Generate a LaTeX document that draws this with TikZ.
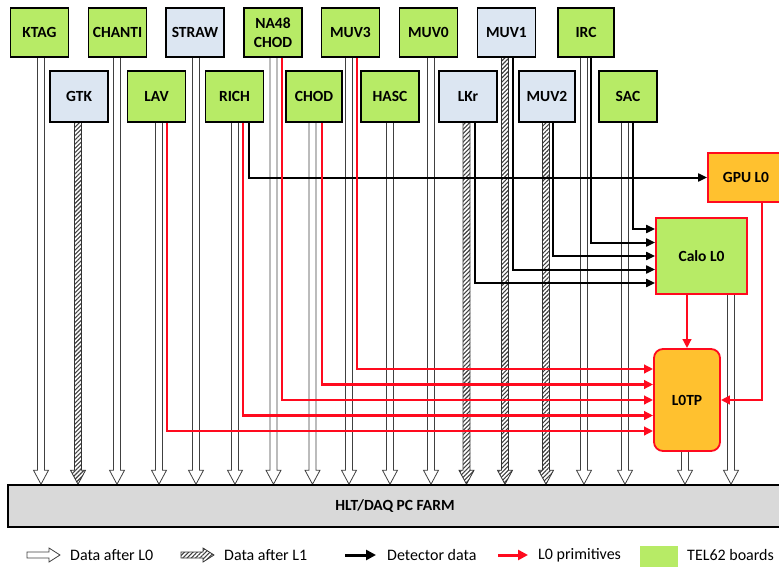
\documentclass[tikz,border=0pt]{standalone}
\usepackage{fontspec}
\setmainfont{Carlito}
\usetikzlibrary{arrows.meta,calc,patterns.meta}
\definecolor{telgreen}{HTML}{B7EB66}
\definecolor{boxblue}{HTML}{DCE6F2}
\definecolor{boxorange}{HTML}{FFC12F}
\definecolor{primred}{HTML}{FF0A1E}
\definecolor{farmgray}{HTML}{D9D9D9}
\pgfdeclarelayer{bg}
\pgfdeclarelayer{mid}
\pgfsetlayers{bg,mid,main}
\newcommand\labfont{\bfseries\fontsize{15.5}{19}\selectfont}
\newcommand\legfont{\fontsize{16}{19}\selectfont}
% vertical block arrow from a box bottom down to the farm
\newcommand\shaftarrow[3]{%
  \path[#3] let \p1=([xshift=#2pt]#1.south), \p2=(HLT.north) in
   (\x1-3.5pt,\y1) -- (\x1-3.5pt,\y2+14pt) -- (\x1-7.5pt,\y2+14pt) -- (\x1,\y2)
   -- (\x1+7.5pt,\y2+14pt) -- (\x1+3.5pt,\y2+14pt) -- (\x1+3.5pt,\y1);}
% horizontal legend block arrow between two named coordinates
\newcommand\legarrow[3]{%
  \path[#3] let \p1=(#1), \p2=(#2) in
   (\x1,\y1+3pt) -- (\x2-11pt,\y1+3pt) -- (\x2-11pt,\y1+7pt) -- (\x2,\y1)
   -- (\x2-11pt,\y1-7pt) -- (\x2-11pt,\y1-3pt) -- (\x1,\y1-3pt) -- cycle;}
\begin{document}
\begin{tikzpicture}[x=1pt,y=-1pt,
  tel/.style={draw=black, line width=1.4pt, fill=telgreen, minimum width=58pt,
              minimum height=49pt, inner sep=0pt, font=\labfont, align=center},
  tel2/.style={tel, minimum height=51pt},
  hollow/.style={draw=black!75, line width=0.8pt, fill=white},
  hatched/.style={draw=black!80, line width=0.8pt,
                  pattern={Lines[angle=45,distance=3pt,line width=1.1pt]},
                  pattern color=black!75},
  det/.style={draw=black, line width=2pt, -{Triangle[length=9pt,width=8pt]}},
  prim/.style={draw=primred, line width=2.4pt, -{Triangle[length=9pt,width=8.5pt]}},
  trig/.style={draw=primred, line width=1.8pt, inner sep=0pt, font=\labfont},
  legtext/.style={anchor=west, inner sep=0pt, font=\legfont}
]
\useasboundingbox (0,0) rectangle (779,567);
\clip (0,0) rectangle (779,567);

% farm
\node[draw=black, line width=1.5pt, fill=farmgray, minimum width=774pt,
      minimum height=42pt, inner sep=0pt, font=\labfont] (HLT) at (395,506) {HLT/DAQ PC FARM};

% top row
\node[tel] (KTAG) at (39.5,32.5) {KTAG};
\node[tel] (CHANTI) at (117.5,32.5) {CHANTI};
\node[tel, fill=boxblue] (STRAW) at (195,32.5) {STRAW};
\node[tel] (NA48) at (273,32.5) {NA48\\CHOD};
\node[tel] (MUV3) at (350.5,32.5) {MUV3};
\node[tel] (MUV0) at (428.5,32.5) {MUV0};
\node[tel, fill=boxblue] (MUV1) at (506.5,32.5) {MUV1};
\node[tel, minimum width=56pt] (IRC) at (586,32.5) {IRC};
% second row
\node[tel2, fill=boxblue] (GTK) at (79,96.5) {GTK};
\node[tel2] (LAV) at (156.5,96.5) {LAV};
\node[tel2] (RICH) at (234.5,96.5) {RICH};
\node[tel2, minimum width=56pt] (CHOD) at (314,96.5) {CHOD};
\node[tel2] (HASC) at (390,96.5) {HASC};
\node[tel2, fill=boxblue] (LKr) at (468,96.5) {LKr};
\node[tel2, fill=boxblue, minimum width=56pt] (MUV2) at (547,96.5) {MUV2};
\node[tel2] (SAC) at (628,96.5) {SAC};
% trigger processors
\node[trig, fill=boxorange, minimum width=76pt, minimum height=49pt] (GPU) at (746,177.5) {GPU L0};
\node[trig, fill=telgreen, minimum width=91pt, minimum height=76pt] (Calo) at (701.5,256) {Calo L0};
\node[trig, fill=boxorange, rounded corners=9pt, minimum width=66pt, minimum height=102pt] (L0TP) at (687,400) {L0TP};

% data shafts
\begin{pgfonlayer}{bg}
\shaftarrow{KTAG}{1.5}{hollow}
\shaftarrow{CHANTI}{-0.5}{hollow}
\shaftarrow{STRAW}{1}{hollow}
\shaftarrow{NA48}{0.5}{hollow}
\shaftarrow{MUV3}{-1.5}{hollow}
\shaftarrow{MUV0}{2.5}{hollow}
\shaftarrow{MUV1}{-1.5}{hatched}
\shaftarrow{IRC}{-2}{hollow}
\shaftarrow{GTK}{-1}{hatched}
\shaftarrow{LAV}{2.5}{hollow}
\shaftarrow{RICH}{0.5}{hollow}
\shaftarrow{CHOD}{-1.5}{hollow}
\shaftarrow{HASC}{0}{hollow}
\shaftarrow{LKr}{-1.5}{hatched}
\shaftarrow{MUV2}{-1}{hatched}
\shaftarrow{SAC}{-3}{hollow}
\shaftarrow{L0TP}{-2}{hollow}
\shaftarrow{Calo}{29.5}{hollow}
\end{pgfonlayer}

% detector data and primitives
\begin{pgfonlayer}{mid}
\draw[det] ([xshift=14.5pt]RICH.south) |- (GPU.west);
\draw[det] ([xshift=5pt]SAC.south) |- ([yshift=27pt]Calo.west);
\draw[det] ([xshift=5pt]IRC.south) |- ([yshift=13.5pt]Calo.west);
\draw[det] ([xshift=6pt]MUV2.south) |- (Calo.west);
\draw[det] ([xshift=6.5pt]MUV1.south) |- ([yshift=-13.5pt]Calo.west);
\draw[det] ([xshift=7pt]LKr.south) |- ([yshift=-27pt]Calo.west);

\draw[prim] ([xshift=6.5pt]MUV3.south) |- ([yshift=31pt]L0TP.west);
\draw[prim] ([xshift=8pt]CHOD.south) |- ([yshift=15.5pt]L0TP.west);
\draw[prim] ([xshift=9pt]NA48.south) |- (L0TP.west);
\draw[prim] ([xshift=8.5pt]RICH.south) |- ([yshift=-15.5pt]L0TP.west);
\draw[prim] ([xshift=10.5pt]LAV.south) |- ([yshift=-31pt]L0TP.west);
\draw[prim] (Calo.south -| L0TP.north) -- (L0TP.north);
\draw[prim] ([xshift=16pt]GPU.south) |- (L0TP.east);
\end{pgfonlayer}

% legend
\coordinate (la1) at (27,555);  \coordinate (la2) at (60,555);
\coordinate (lb1) at (181,555); \coordinate (lb2) at (214,555);
\coordinate (lc1) at (345,555); \coordinate (lc2) at (376,555);
\coordinate (ld1) at (498,555); \coordinate (ld2) at (528,555);
\legarrow{la1}{la2}{hollow}
\legarrow{lb1}{lb2}{hatched}
\draw[draw=black, line width=3pt, -{Triangle[length=10pt,width=10pt]}] (lc1) -- (lc2);
\draw[draw=primred, line width=3pt, -{Triangle[length=10pt,width=10pt]}] (ld1) -- (ld2);
\node[fill=telgreen, minimum width=38pt, minimum height=38pt, inner sep=0pt, anchor=north west] (lg) at (640,546) {};
\node[legtext] (lt1) at (70,555) {Data after L0};
\node[legtext] (lt2) at (224,555) {Data after L1};
\node[legtext] (lt3) at (387,555) {Detector data};
\node[legtext] (lt4) at (538,555) {L0 primitives};
\node[legtext] (lt5) at (687,555) {TEL62 boards};
\end{tikzpicture}
\end{document}
